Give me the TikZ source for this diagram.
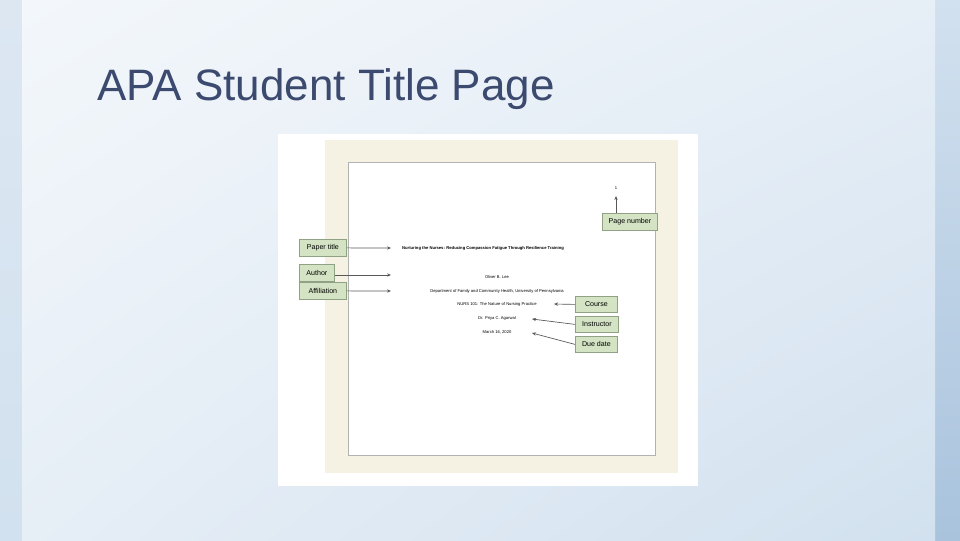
\documentclass[tikz,border=0pt]{standalone}
\usepackage{fontspec}
\setmainfont{Liberation Sans}
\usetikzlibrary{arrows.meta,shadings}
\definecolor{ttl}{HTML}{3B4A6E}
\definecolor{lbl}{HTML}{D3E3C3}
\definecolor{lbd}{HTML}{8FA283}
\definecolor{beige}{HTML}{F5F2E4}
\definecolor{bgA}{HTML}{F3F7FB}
\definecolor{bgB}{HTML}{E6EEF6}
\definecolor{bgC}{HTML}{D2E1EF}
\definecolor{bgD}{HTML}{A9C3DD}
\definecolor{bgE}{HTML}{DCE7F2}
\tikzset{
 lab/.style={draw=lbd,fill=lbl,line width=0.6pt,font=\fontsize{5.3}{6}\selectfont,inner sep=0pt,anchor=north west},
 txt/.style={font=\fontsize{3.1}{4}\selectfont,inner sep=0pt},
 arr/.style={draw=gray!70!black,line width=0.5pt,-{Stealth[length=3pt,width=2.5pt]}}
}
\begin{document}
\begin{tikzpicture}[x=0.75pt,y=-0.75pt]
\useasboundingbox (0,0) rectangle (960,540);
\shade[top color=bgE, bottom color=bgC] (0,0) rectangle (22,540);
\shade[top color=bgC, bottom color=bgD] (935,0) rectangle (960,540);
\shade[upper left=bgA, lower right=bgC, upper right=bgB, lower left=bgB] (22,0) rectangle (935,540);
\node[anchor=west,text=ttl,font=\fontsize{33}{36}\selectfont,inner sep=0pt] (title) at (97,89) {APA Student Title Page};
\fill[white] (278,134) rectangle (698,486);
\fill[beige] (325,140) rectangle (678,473);
\draw[fill=white,draw=gray!60,line width=0.6pt] (348,162) rectangle (655,455);
\node[txt] (pn) at (616,188) {1};
\node[txt,font=\fontsize{3.1}{4}\selectfont\bfseries] (pt) at (483,248) {Nurturing the Nurses: Reducing Compassion Fatigue Through Resilience Training};
\node[txt] (au) at (497,277) {Oliver B. Lee};
\node[txt] (af) at (497,291) {Department of Family and Community Health, University of Pennsylvania};
\node[txt] (co) at (497,304) {NURS 101: The Nature of Nursing Practice};
\node[txt] (in) at (497,318) {Dr. Priya C. Agarwal};
\node[txt] (dd) at (497,332) {March 16, 2020};
\node[lab,minimum width=41.25pt,minimum height=12.75pt] (Lpn) at (602,213) {Page number};
\node[lab,minimum width=35.25pt,minimum height=12.75pt] (Lpt) at (299,239) {Paper title};
\node[lab,minimum width=26.25pt,minimum height=12.75pt] (Lau) at (299,264) {Author};
\node[lab,minimum width=35.25pt,minimum height=12.75pt] (Laf) at (299,282) {Affiliation};
\node[lab,minimum width=31.5pt,minimum height=12pt] (Lco) at (575,296) {Course};
\node[lab,minimum width=32.25pt,minimum height=12pt] (Lin) at (575,316) {Instructor};
\node[lab,minimum width=31.5pt,minimum height=12pt] (Ldd) at (575,336) {Due date};
\coordinate (ept) at (391,248);
\coordinate (eau) at (391,275);
\coordinate (eaf) at (391,291);
\coordinate (eco) at (554,304);
\coordinate (ein) at (532,319);
\coordinate (edd) at (532,333);
\coordinate (epn) at (616,196);
\draw[arr] (Lpt.east) -- (ept);
\draw[arr] (Lau.east |- eau) -- (eau);
\draw[arr] (Laf.east) -- (eaf);
\draw[arr] (Lco.west) -- (eco);
\draw[arr] (Lin.west) -- (ein);
\draw[arr] (Ldd.west) -- (edd);
\draw[arr] (epn |- Lpn.north) -- (epn);
\end{tikzpicture}
\end{document}
